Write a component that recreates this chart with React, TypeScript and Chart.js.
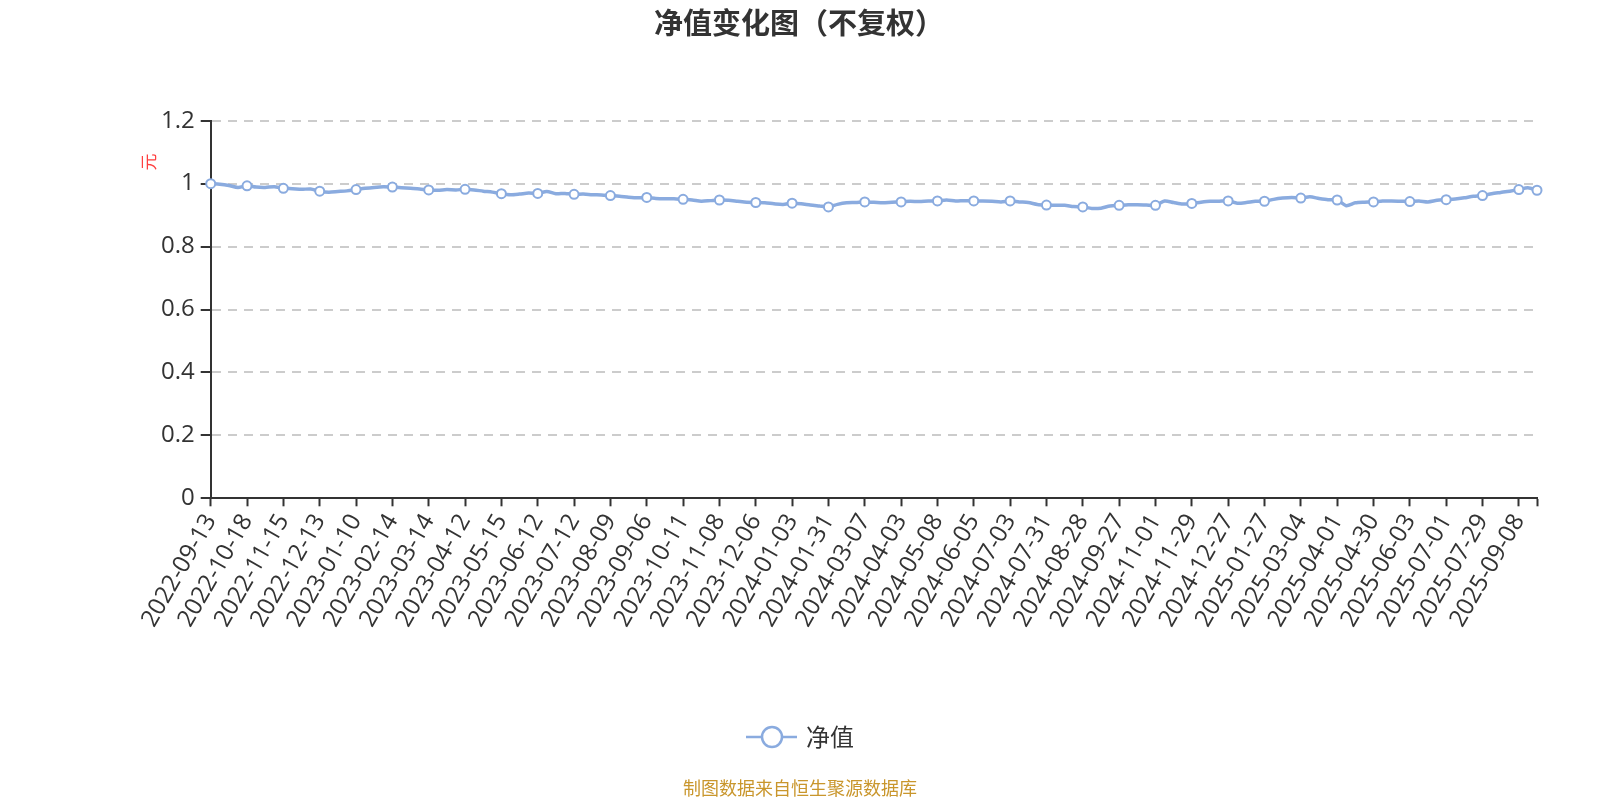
import React, { useEffect, useRef } from "react";
import { Chart, registerables } from "chart.js";

Chart.register(...registerables);

// ---- data ----
const tickDates: string[] = [
  "2022-09-13", "2022-10-18", "2022-11-15", "2022-12-13", "2023-01-10", "2023-02-14",
  "2023-03-14", "2023-04-12", "2023-05-15", "2023-06-12", "2023-07-12", "2023-08-09",
  "2023-09-06", "2023-10-11", "2023-11-08", "2023-12-06", "2024-01-03", "2024-01-31",
  "2024-03-07", "2024-04-03", "2024-05-08", "2024-06-05", "2024-07-03", "2024-07-31",
  "2024-08-28", "2024-09-27", "2024-11-01", "2024-11-29", "2024-12-27", "2025-01-27",
  "2025-03-04", "2025-04-01", "2025-04-30", "2025-06-03", "2025-07-01", "2025-07-29",
  "2025-09-08",
];

// weekly-sampled net value (4 samples per labelled interval)
const navValues: number[] = [
  1.000, 0.998, 0.994, 0.988,
  0.993, 0.989, 0.988, 0.990,
  0.985, 0.984, 0.982, 0.983,
  0.976, 0.973, 0.975, 0.977,
  0.981, 0.985, 0.988, 0.990,
  0.989, 0.987, 0.985, 0.983,
  0.980, 0.979, 0.981, 0.980,
  0.982, 0.980, 0.976, 0.973,
  0.968, 0.965, 0.967, 0.970,
  0.969, 0.975, 0.968, 0.969,
  0.966, 0.967, 0.965, 0.964,
  0.962, 0.960, 0.957, 0.955,
  0.956, 0.953, 0.952, 0.952,
  0.950, 0.948, 0.944, 0.946,
  0.948, 0.947, 0.944, 0.941,
  0.940, 0.939, 0.936, 0.934,
  0.938, 0.936, 0.932, 0.929,
  0.926, 0.934, 0.939, 0.940,
  0.942, 0.941, 0.939, 0.941,
  0.942, 0.944, 0.943, 0.945,
  0.945, 0.948, 0.945, 0.946,
  0.945, 0.945, 0.944, 0.942,
  0.945, 0.942, 0.940, 0.934,
  0.932, 0.931, 0.931, 0.927,
  0.926, 0.921, 0.922, 0.929,
  0.931, 0.933, 0.933, 0.932,
  0.931, 0.945, 0.940, 0.935,
  0.937, 0.941, 0.944, 0.944,
  0.945, 0.938, 0.940, 0.944,
  0.944, 0.950, 0.954, 0.956,
  0.954, 0.958, 0.953, 0.949,
  0.948, 0.930, 0.939, 0.941,
  0.942, 0.945, 0.945, 0.944,
  0.943, 0.945, 0.942, 0.947,
  0.949, 0.951, 0.955, 0.960,
  0.962, 0.968, 0.972, 0.976,
  0.981, 0.987, 0.979,
];

const yTickLabels: string[] = ["0", "0.2", "0.4", "0.6", "0.8", "1", "1.2"];

const SAMPLES_PER_LABEL = 4;
const seriesName = "净值";
const titleText = "净值变化图（不复权）";
const unitText = "元";
const sourceText = "制图数据来自恒生聚源数据库";

const categories: string[] = navValues.map((_, i) =>
  i % SAMPLES_PER_LABEL === 0 ? tickDates[i / SAMPLES_PER_LABEL] ?? "" : ""
);

// ---- styles ----
const W = 1600;
const H = 800;
const LINE = "#8aabdf";
const AXIS = "#333333";
const TEXT = "#333333";
const LATIN = "'Open Sans', 'Noto Sans CJK SC', sans-serif";
const CJK = "'Noto Sans CJK SC', 'Noto Sans', sans-serif";

const chromePlugin = {
  id: "chrome",
  afterDraw(chart: any) {
    const ctx = chart.ctx as CanvasRenderingContext2D;
    ctx.save();
    // title
    ctx.fillStyle = TEXT;
    ctx.font = `bold 29px ${CJK}`;
    ctx.textAlign = "center";
    ctx.textBaseline = "middle";
    ctx.fillText(titleText, 799, 23);

    // unit label (rotated)
    ctx.save();
    ctx.translate(149, 162);
    ctx.rotate(-Math.PI / 2);
    ctx.fillStyle = "#ff4040";
    ctx.font = `17px ${CJK}`;
    ctx.textAlign = "center";
    ctx.textBaseline = "middle";
    ctx.fillText(unitText, 0, 0);
    ctx.restore();

    // legend
    const ly = 737;
    ctx.strokeStyle = LINE;
    ctx.lineWidth = 2.5;
    ctx.beginPath();
    ctx.moveTo(746, ly);
    ctx.lineTo(797, ly);
    ctx.stroke();
    ctx.beginPath();
    ctx.arc(772, ly, 10, 0, Math.PI * 2);
    ctx.fillStyle = "#ffffff";
    ctx.fill();
    ctx.lineWidth = 2.5;
    ctx.stroke();
    ctx.fillStyle = TEXT;
    ctx.font = `24px ${CJK}`;
    ctx.textAlign = "left";
    ctx.textBaseline = "middle";
    ctx.fillText(seriesName, 806, ly);

    // source
    ctx.fillStyle = "#c9962c";
    ctx.font = `18px ${CJK}`;
    ctx.textAlign = "center";
    ctx.fillText(sourceText, 800, 788);
    ctx.restore();
  },
};

export default function App() {
  const ref = useRef<HTMLCanvasElement | null>(null);

  useEffect(() => {
    if (!ref.current) return;
    const lastIdx = navValues.length - 1;
    const chart = new Chart(ref.current, {
      type: "line",
      data: {
        labels: categories,
        datasets: [
          {
            label: seriesName,
            data: navValues,
            borderColor: LINE,
            borderWidth: 3.5,
            tension: 0.25,
            fill: false,
            pointRadius: (c: any) =>
              c.dataIndex % SAMPLES_PER_LABEL === 0 || c.dataIndex === lastIdx ? 4.5 : 0,
            pointHoverRadius: 4.5,
            pointBackgroundColor: "#ffffff",
            pointBorderColor: LINE,
            pointBorderWidth: 2,
          },
        ],
      },
      options: {
        responsive: false,
        animation: false,
        devicePixelRatio: 1,
        layout: { padding: { top: 120.7, left: 0, right: 63, bottom: 0 } },
        plugins: {
          legend: { display: false },
          title: { display: false },
          tooltip: { enabled: false },
        },
        scales: {
          x: {
            type: "category",
            offset: false,
            grid: {
              drawOnChartArea: false,
              drawTicks: true,
              tickLength: 8,
              tickWidth: 2,
              tickColor: (c: any) =>
                c.index % SAMPLES_PER_LABEL === 0 || c.index === lastIdx ? AXIS : "rgba(0,0,0,0)",
            },
            border: { display: true, color: AXIS, width: 2 },
            ticks: {
              autoSkip: false,
              minRotation: 60,
              maxRotation: 60,
              color: TEXT,
              padding: 3,
              font: { size: 24, family: LATIN },
              callback: (_v: any, i: number) => categories[i],
            },
            afterFit: (s: any) => {
              s.height = H - 498.3;
            },
          },
          y: {
            min: 0,
            max: 1.2,
            ticks: {
              stepSize: 0.2,
              color: TEXT,
              padding: 6,
              font: { size: 24, family: LATIN },
              callback: (_v: any, i: number) => yTickLabels[i],
            },
            grid: {
              color: "#cccccc",
              lineWidth: 2,
              tickLength: 10,
              tickWidth: 2,
              tickColor: AXIS,
              tickBorderDash: [],
            },
            border: { display: true, color: AXIS, width: 2, dash: [9, 7] },
            afterFit: (s: any) => {
              s.width = 210.7;
            },
          },
        },
      },
      plugins: [chromePlugin],
    } as any);
    return () => chart.destroy();
  }, []);

  return (
    <div style={{ position: "fixed", left: 0, top: 0, width: W, height: H, background: "#fff" }}>
      <canvas ref={ref} width={W} height={H} style={{ width: W, height: H, display: "block" }} />
    </div>
  );
}
